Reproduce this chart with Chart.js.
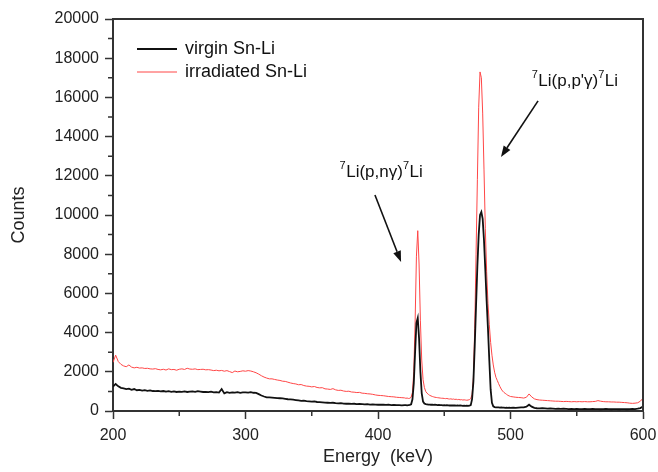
<!DOCTYPE html>
<html>
<head>
<meta charset="utf-8">
<script src="https://cdn.jsdelivr.net/npm/chart.js@4/dist/chart.umd.min.js"></script>
<style>
  html, body { margin: 0; padding: 0; background: #fff; }
  #wrap { width: 658px; height: 472px; }
</style>
</head>
<body>
<div id="wrap"><canvas id="spectrum" width="658" height="472"></canvas></div>
<script>
// Energy grid (keV): 2 keV steps, 1 keV around the Li peaks
const energy = [
  200, 202, 204, 206, 208, 210, 212, 214, 216, 218,
  220, 222, 224, 226, 228, 230, 232, 234, 236, 238,
  240, 242, 244, 246, 248, 250, 252, 254, 256, 258,
  260, 262, 264, 266, 268, 270, 272, 274, 276, 278,
  280, 282, 284, 286, 288, 290, 292, 294, 296, 298,
  300, 302, 304, 306, 308, 310, 312, 314, 316, 318,
  320, 322, 324, 326, 328, 330, 332, 334, 336, 338,
  340, 342, 344, 346, 348, 350, 352, 354, 356, 358,
  360, 362, 364, 366, 368, 370, 372, 374, 376, 378,
  380, 382, 384, 386, 388, 390, 392, 394, 396, 398,
  400, 402, 404, 406, 408, 410, 412, 414, 416, 418,
  420,
  421, 422, 423, 424, 425, 426, 427, 428, 429, 430,
  431, 432, 433, 434, 435, 436, 437, 438, 439, 440,
  441, 442, 443, 444, 445, 446, 447, 448, 449, 450,
  451, 452, 453, 454, 455, 456, 457, 458, 459, 460,
  461, 462, 463, 464, 465, 466, 467, 468, 469, 470,
  471, 472, 473, 474, 475, 476, 477, 478, 479, 480,
  481, 482, 483, 484, 485, 486, 487, 488, 489, 490,
  491, 492, 493, 494, 495, 496, 497, 498, 499, 500,
  502, 504, 506, 508, 510, 512, 514, 516, 518, 520,
  522, 524, 526, 528, 530, 532, 534, 536, 538, 540,
  542, 544, 546, 548, 550, 552, 554, 556, 558, 560,
  562, 564, 566, 568, 570, 572, 574, 576, 578, 580,
  582, 584, 586, 588, 590, 592, 594, 596, 598, 600
];

const virgin = [
  1250, 1380, 1260, 1180, 1150, 1120, 1140, 1080, 1120, 1060,
  1080, 1040, 1060, 1030, 1050, 1020, 1010, 1030, 1000, 1020,
  990, 1010, 980, 1000, 970, 990, 980, 1000, 970, 990,
  1000, 980, 1010, 990, 970, 980, 960, 990, 950, 960,
  940, 1120, 900, 960, 930, 950, 940, 960, 930, 950,
  950, 940, 960, 930, 920, 860, 790, 740, 700, 690,
  680, 670, 660, 650, 640, 620, 600, 590, 580, 560,
  540, 520, 530, 500, 490, 480, 490, 460, 450, 440,
  430, 420, 410, 420, 400, 390, 400, 380, 370, 380,
  360, 370, 350, 360, 350, 340, 350, 330, 340, 330,
  320, 330, 320, 310, 320, 300, 310, 300, 300, 290,
  300,
  300, 290, 300, 310, 340, 600, 1400, 3000, 4500, 4750,
  3700, 2000, 900, 480, 380, 350, 340, 330, 330, 320,
  320, 310, 320, 310, 300, 310, 300, 300, 290, 300,
  290, 300, 290, 280, 290, 280, 290, 280, 270, 280,
  270, 280, 270, 260, 270, 260, 270, 260, 270, 300,
  600, 1500, 3300, 5400, 7400, 9000, 10000, 10150, 9800, 8700,
  7200, 5600, 4200, 2600, 1100, 420, 240, 200, 190, 180,
  180, 170, 180, 170, 170, 160, 170, 160, 170, 160,
  170, 160, 170, 180, 190, 220, 320, 220, 160, 140,
  130, 140, 130, 120, 130, 120, 110, 120, 110, 120,
  110, 100, 110, 100, 110, 100, 100, 110, 100, 100,
  110, 100, 100, 90, 100, 110, 100, 90, 100, 100,
  90, 100, 100, 90, 100, 110, 100, 120, 150, 230
];

const irradiated = [
  2480, 2850, 2520, 2380, 2300, 2260, 2350, 2240, 2200, 2230,
  2190, 2200, 2170, 2180, 2150, 2140, 2160, 2120, 2100, 2130,
  2090, 2150, 2110, 2120, 2080, 2130, 2150, 2120, 2180, 2140,
  2130, 2150, 2110, 2120, 2130, 2100, 2110, 2090, 2060, 2080,
  2050, 2070, 2030, 2060, 2010, 1960, 2040, 2000, 2020, 2050,
  2030, 2060, 2040, 2000, 1950, 1880, 1800, 1730, 1680, 1640,
  1640, 1610, 1580, 1560, 1520, 1510, 1470, 1430, 1400, 1380,
  1340, 1350, 1300, 1270, 1260, 1230, 1250, 1200, 1180, 1190,
  1130, 1120, 1100, 1140, 1080, 1050, 1060, 1020, 1000, 1010,
  970, 960, 940, 950, 910, 900, 880, 870, 850, 820,
  800, 790, 780, 760, 740, 730, 720, 700, 690, 680,
  670,
  650, 660, 640, 650, 700, 950, 2000, 4500, 7900, 9200,
  7500, 4600, 2600, 1600, 1200, 1000, 910, 850, 800, 770,
  740, 720, 700, 690, 680, 670, 660, 650, 650, 640,
  630, 640, 620, 610, 620, 600, 610, 590, 600, 580,
  590, 570, 580, 560, 570, 560, 550, 560, 580, 630,
  850, 1700, 4200, 8000, 11800, 15500, 17300, 17000, 15200, 12300,
  9300, 7100, 5500, 4400, 3500, 2850, 2350, 1980, 1720, 1560,
  1400, 1250, 1120, 1020, 950, 900, 850, 800, 770, 740,
  720, 700, 690, 680, 660, 700, 870, 720, 620, 580,
  560, 550, 540, 530, 520, 510, 500, 500, 490, 480,
  490, 480, 470, 480, 470, 480, 470, 480, 470, 470,
  480, 490, 530, 500, 480, 470, 470, 460, 460, 450,
  450, 440, 430, 420, 400, 390, 400, 420, 500, 650
];

const seriesNames = ['virgin Sn-Li', 'irradiated Sn-Li'];
const xTicks = [200, 300, 400, 500, 600];
const xMinor = [250, 350, 450, 550];
const yMinor = [1000, 3000, 5000, 7000, 9000, 11000, 13000, 15000, 17000, 19000];

// peak labels anchored in data units; arrows: [from keV, counts, to keV, counts]
const peakLabels = [
  { parts: [['7', 1], ['Li(p,p\'\u03b3)', 0], ['7', 1], ['Li', 0]], e: 516, c: 16580 },
  { parts: [['7', 1], ['Li(p,n\u03b3)', 0], ['7', 1], ['Li', 0]], e: 371, c: 11940 }
];
const arrows = [
  [520.8, 15820, 492.8, 12960],
  [397.7, 11020, 417.4, 7600]
];

const FONT = '"Liberation Sans", Arial, Helvetica, sans-serif';
const AXIS = '#333';

const toPoints = vals => energy.map((e, i) => ({ x: e, y: vals[i] }));

const extrasPlugin = {
  id: 'extras',
  afterDraw(chart) {
    const { ctx, chartArea: a, scales } = chart;
    const xs = scales.x, ys = scales.y;
    ctx.save();
    // frame top/right
    ctx.strokeStyle = AXIS;
    ctx.lineWidth = 2;
    ctx.beginPath();
    ctx.moveTo(a.left, a.top);
    ctx.lineTo(a.right, a.top);
    ctx.lineTo(a.right, a.bottom);
    ctx.stroke();

    // minor ticks
    ctx.lineWidth = 1.5;
    ctx.beginPath();
    yMinor.forEach(v => {
      const y = ys.getPixelForValue(v);
      ctx.moveTo(a.left - 5, y);
      ctx.lineTo(a.left, y);
    });
    xMinor.forEach(v => {
      const x = xs.getPixelForValue(v);
      ctx.moveTo(x, a.bottom);
      ctx.lineTo(x, a.bottom + 5);
    });
    ctx.stroke();

    // legend
    ctx.font = '18px ' + FONT;
    ctx.textBaseline = 'middle';
    ctx.textAlign = 'left';
    chart.data.datasets.forEach((ds, i) => {
      const y = a.top + 30 + i * 23;
      ctx.strokeStyle = ds.borderColor;
      ctx.lineWidth = ds.borderWidth;
      ctx.beginPath();
      ctx.moveTo(a.left + 24, y);
      ctx.lineTo(a.left + 64, y);
      ctx.stroke();
      ctx.fillStyle = '#111';
      ctx.fillText(ds.label, a.left + 72, y);
    });

    // peak labels
    ctx.fillStyle = '#111';
    ctx.textBaseline = 'alphabetic';
    peakLabels.forEach(lb => {
      let x = xs.getPixelForValue(lb.e);
      const y = ys.getPixelForValue(lb.c);
      lb.parts.forEach(([t, sup]) => {
        ctx.font = (sup ? '11px ' : '17px ') + FONT;
        ctx.fillText(t, x, sup ? y - 8 : y);
        x += ctx.measureText(t).width + (sup ? 0.5 : 0);
      });
    });

    // arrows
    ctx.strokeStyle = '#111';
    ctx.lineWidth = 1.6;
    arrows.forEach(([e0, c0, e1, c1]) => {
      const x0 = xs.getPixelForValue(e0), y0 = ys.getPixelForValue(c0);
      const x1 = xs.getPixelForValue(e1), y1 = ys.getPixelForValue(c1);
      const ang = Math.atan2(y1 - y0, x1 - x0);
      const hl = 11, hw = 4;
      const bx = x1 - hl * Math.cos(ang), by = y1 - hl * Math.sin(ang);
      ctx.beginPath();
      ctx.moveTo(x0, y0);
      ctx.lineTo(bx, by);
      ctx.stroke();
      ctx.beginPath();
      ctx.moveTo(x1, y1);
      ctx.lineTo(bx + hw * Math.sin(ang), by - hw * Math.cos(ang));
      ctx.lineTo(bx - hw * Math.sin(ang), by + hw * Math.cos(ang));
      ctx.closePath();
      ctx.fillStyle = '#111';
      ctx.fill();
    });
    ctx.restore();
  }
};

Chart.defaults.font.family = FONT;
Chart.defaults.color = '#222';

new Chart(document.getElementById('spectrum'), {
  type: 'line',
  data: {
    datasets: [
      {
        label: seriesNames[0],
        data: toPoints(virgin),
        borderColor: '#111',
        borderWidth: 1.8,
        pointRadius: 0,
        tension: 0,
        order: 0
      },
      {
        label: seriesNames[1],
        data: toPoints(irradiated),
        borderColor: 'rgb(255,70,70)',
        borderWidth: 1,
        pointRadius: 0,
        tension: 0,
        order: 1
      }
    ]
  },
  options: {
    responsive: false,
    animation: false,
    layout: { padding: { top: 19, right: 15, left: 0, bottom: 0 } },
    plugins: {
      legend: { display: false },
      tooltip: { enabled: false }
    },
    scales: {
      x: {
        type: 'linear',
        min: 200,
        max: 600,
        afterFit: s => { s.height = 61; s.paddingLeft = 0; s.paddingRight = 0; },
        afterBuildTicks: s => { s.ticks = xTicks.map(v => ({ value: v })); },
        ticks: { font: { size: 16 }, padding: 7, maxRotation: 0, color: '#222', callback: v => String(v) },
        grid: { display: true, drawOnChartArea: false, tickLength: 8, tickColor: AXIS, tickWidth: 1.5 },
        border: { display: true, color: AXIS, width: 2 },
        title: { display: true, text: 'Energy  (keV)', font: { size: 18 }, padding: { top: 0, bottom: 4 }, color: '#222' }
      },
      y: {
        min: 0,
        max: 20000,
        afterFit: s => { s.width = 113; s.paddingTop = 0; s.paddingBottom = 0; },
        ticks: { stepSize: 2000, font: { size: 16 }, padding: 6, color: '#222', callback: v => String(v) },
        grid: { display: true, drawOnChartArea: false, tickLength: 8, tickColor: AXIS, tickWidth: 1.5 },
        border: { display: true, color: AXIS, width: 2 },
        title: { display: true, text: 'Counts', font: { size: 18 }, padding: { top: 8, bottom: 0 }, color: '#222' }
      }
    }
  },
  plugins: [extrasPlugin]
});
</script>
</body>
</html>
